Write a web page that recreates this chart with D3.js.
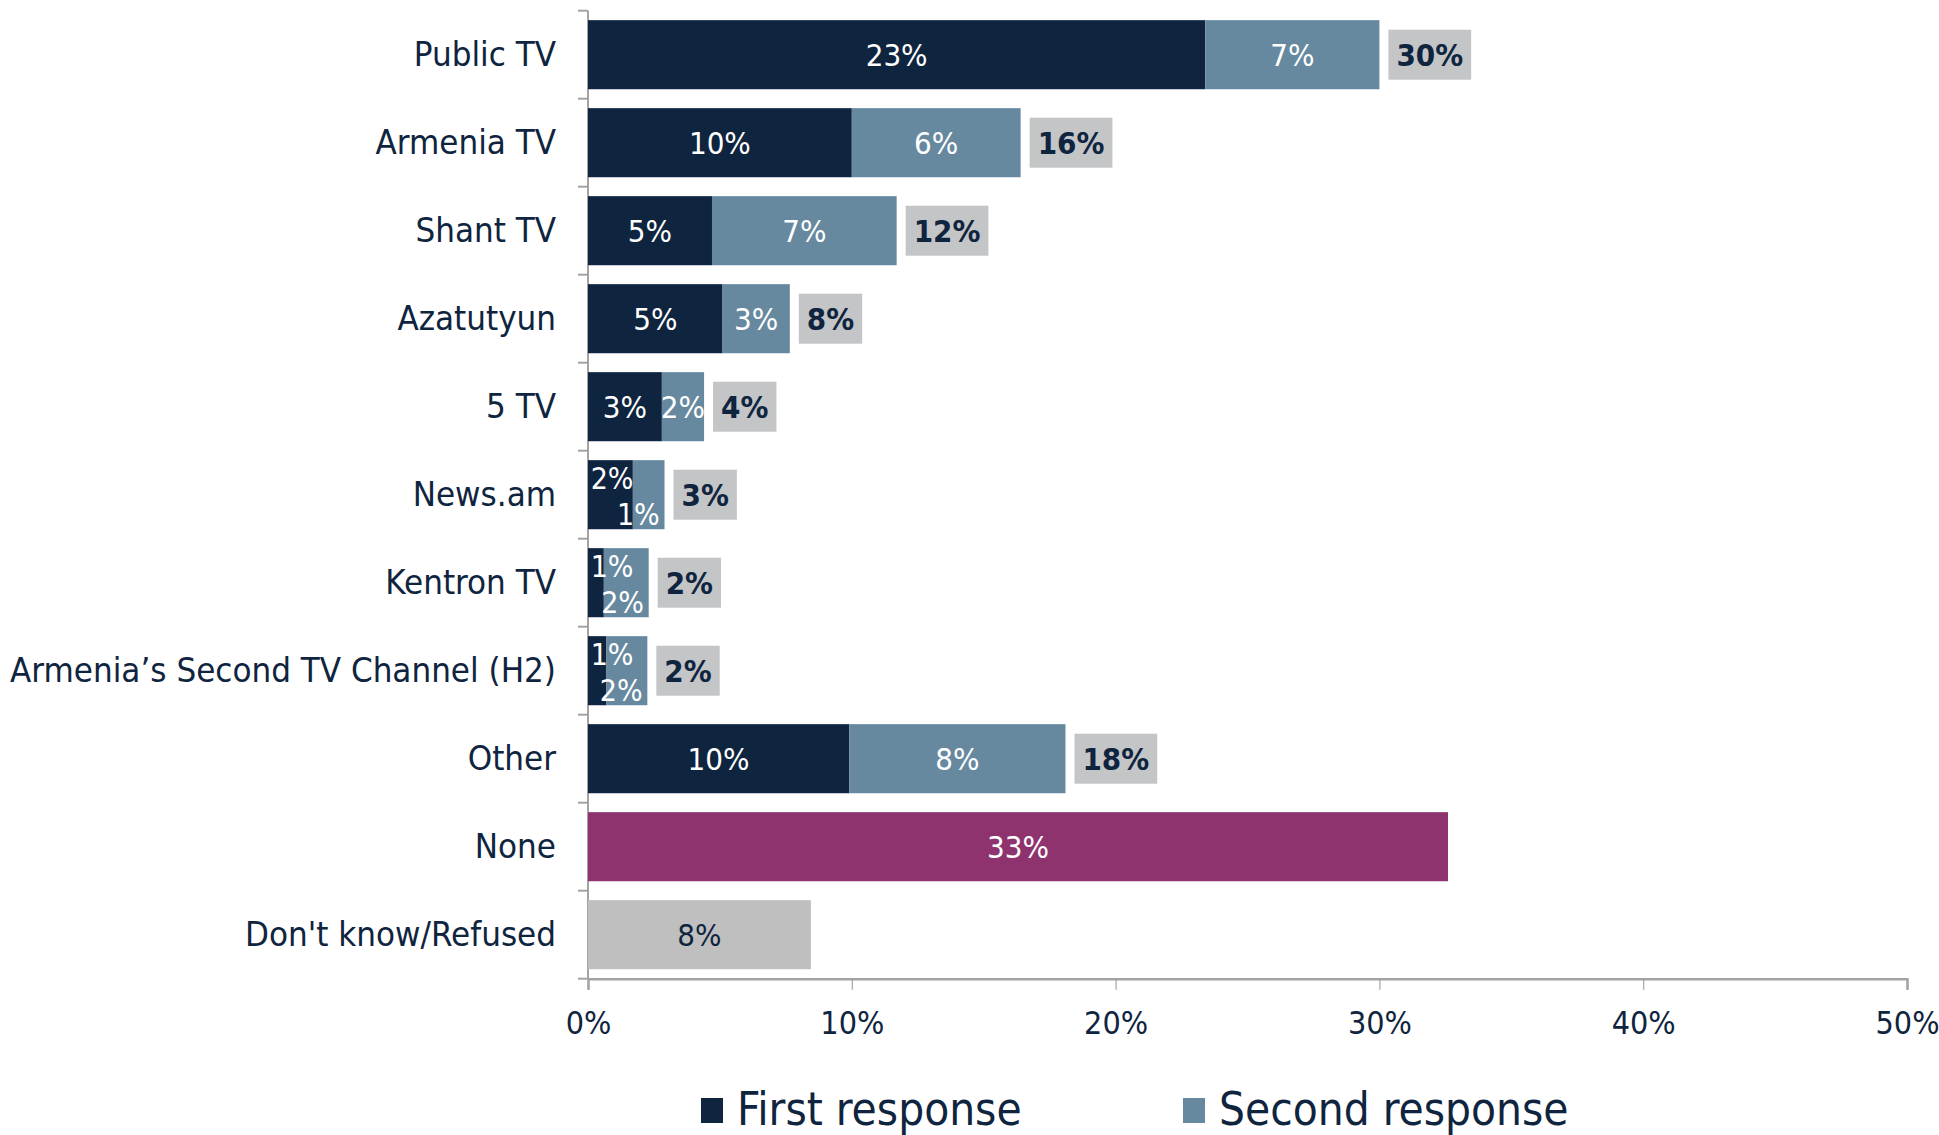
<!DOCTYPE html>
<html>
<head>
<meta charset="utf-8">
<script src="https://cdn.jsdelivr.net/npm/d3@7"></script>
<style>
  html, body { margin: 0; padding: 0; background: #ffffff; }
  svg { display: block; font-family: "DejaVu Sans", sans-serif; font-stretch: condensed; }
</style>
</head>
<body>
<svg id="chart" width="1939" height="1135"></svg>
<script>
// ---- data ----
const categories = ["Public TV", "Armenia TV", "Shant TV", "Azatutyun", "5 TV", "News.am",
  "Kentron TV", "Armenia\u2019s Second TV Channel (H2)", "Other", "None", "Don't know/Refused"];
const firstResponse  = [23.4, 10.0, 4.7, 5.1, 2.8, 1.7, 0.6, 0.7, 9.9];
const secondResponse = [6.6, 6.4, 7.0, 2.55, 1.6, 1.2, 1.7, 1.55, 8.2];
const singleCategories = ["None", "Don't know/Refused"];
const singleValues = [32.6, 8.45];
const xTicks = [0, 10, 20, 30, 40, 50];
const seriesNames = ["First response", "Second response"];

// ---- styling ----
const C = { first: "#0f243e", second: "#67899f", total: "#c4c5c7", none: "#8e336e", dk: "#bfbfbf", text: "#0f243e", axis: "#a3a3a3" };
const svg = d3.select("#chart");
const margin = { left: 588, right: 32, top: 10.7, bottom: 156.3 };
const W = 1939, H = 1135;

const x = d3.scaleLinear().domain([0, 50]).range([margin.left, W - margin.right]);
const y = d3.scaleBand().domain(categories).range([margin.top, H - margin.bottom]).paddingInner(0.215).paddingOuter(0.1075);
const bw = y.bandwidth();
const step = y.step();

// y axis labels
const yAxis = d3.axisLeft(y).tickSize(0).tickPadding(32);
const gy = svg.append("g").attr("transform", `translate(${margin.left},0)`).call(yAxis);
gy.select(".domain").remove();
gy.selectAll("text").attr("font-size", 34.6).attr("fill", C.text).attr("font-family", "DejaVu Sans").style("font-stretch", "condensed");

// band boundary ticks (category axis style)
const boundaries = d3.range(categories.length + 1).map(i => y.range()[0] + i * step);
svg.append("g").selectAll("line").data(boundaries).join("line")
  .attr("x1", margin.left - 10).attr("x2", margin.left)
  .attr("y1", d => d).attr("y2", d => d)
  .attr("stroke", C.axis).attr("stroke-width", 2);

// x axis
const gx = svg.append("g").attr("transform", `translate(0,${H - margin.bottom})`)
  .call(d3.axisBottom(x).tickValues(xTicks).tickFormat(d => d + "%").tickSize(11).tickPadding(22));
gx.select(".domain").attr("stroke", C.axis).attr("stroke-width", 2.5);
gx.selectAll(".tick line").attr("stroke", C.axis).attr("stroke-width", 1.2);
gx.selectAll("text").attr("font-size", 32).attr("fill", C.text).attr("font-family", "DejaVu Sans").style("font-stretch", "condensed");

// left axis line
svg.append("line").attr("x1", margin.left).attr("x2", margin.left)
  .attr("y1", y.range()[0]).attr("y2", y.range()[1])
  .attr("stroke", C.axis).attr("stroke-width", 2);

// stacked bars
const rows = firstResponse.map((f, i) => ({ cat: categories[i], f, s: secondResponse[i] }));
const gBars = svg.append("g");
const fmt = v => Math.round(v) + "%";
const labelSize = 31;

rows.forEach(r => {
  const yc = y(r.cat) + bw / 2;
  const x0 = x(0), x1 = x(r.f), x2 = x(r.f + r.s);
  gBars.append("rect").attr("x", x0).attr("y", y(r.cat)).attr("width", x1 - x0).attr("height", bw).attr("fill", C.first);
  gBars.append("rect").attr("x", x1).attr("y", y(r.cat)).attr("width", x2 - x1).attr("height", bw).attr("fill", C.second);

  const narrow = Math.min(x1 - x0, x2 - x1) < 40;
  const t1 = gBars.append("text").text(fmt(r.f)).attr("fill", "#fff").attr("font-size", labelSize)
    .attr("text-anchor", "middle").attr("dominant-baseline", "central");
  const t2 = gBars.append("text").text(fmt(r.s)).attr("fill", "#fff").attr("font-size", labelSize)
    .attr("text-anchor", "middle").attr("dominant-baseline", "central");
  if (!narrow) {
    t1.attr("x", (x0 + x1) / 2).attr("y", yc);
    t2.attr("x", (x1 + x2) / 2).attr("y", yc);
  } else {
    const hw = t1.node().getComputedTextLength() / 2;
    const hw2 = t2.node().getComputedTextLength() / 2;
    t1.attr("x", Math.max((x0 + x1) / 2, x0 + hw + 2)).attr("y", yc - 16).attr("font-size", 30);
    t2.attr("x", Math.min((x1 + x2) / 2, x2 - hw2 - 4)).attr("y", yc + 20).attr("font-size", 30);
  }

  // total box
  const tt = gBars.append("text").text(fmt(r.f + r.s)).attr("fill", C.text).attr("font-size", labelSize)
    .attr("font-weight", "bold").attr("dominant-baseline", "central");
  const tw = tt.node().getComputedTextLength();
  const bx = x2 + 9, pad = 8;
  gBars.insert("rect", () => tt.node()).attr("x", bx).attr("y", yc - 25).attr("width", tw + 2 * pad).attr("height", 50).attr("fill", C.total);
  tt.attr("x", bx + pad).attr("y", yc);
});

// single bars: None, Don't know
const singleColors = [C.none, C.dk];
const singleText = ["#ffffff", C.text];
singleCategories.forEach((c, i) => {
  const v = singleValues[i];
  gBars.append("rect").attr("x", x(0)).attr("y", y(c)).attr("width", x(v) - x(0)).attr("height", bw).attr("fill", singleColors[i]);
  gBars.append("text").text(fmt(v)).attr("x", (x(0) + x(v)) / 2).attr("y", y(c) + bw / 2)
    .attr("fill", singleText[i]).attr("font-size", labelSize).attr("text-anchor", "middle").attr("dominant-baseline", "central");
});

// legend
const legend = svg.append("g");
const legX = [701, 1183];
const legColors = [C.first, C.second];
seriesNames.forEach((n, i) => {
  legend.append("rect").attr("x", legX[i]).attr("y", 1098).attr("width", 22).attr("height", 25).attr("fill", legColors[i]);
  legend.append("text").text(n).attr("x", legX[i] + 36).attr("y", 1109).attr("dominant-baseline", "central")
    .attr("font-size", 45.5).attr("fill", C.text);
});
</script>
</body>
</html>
